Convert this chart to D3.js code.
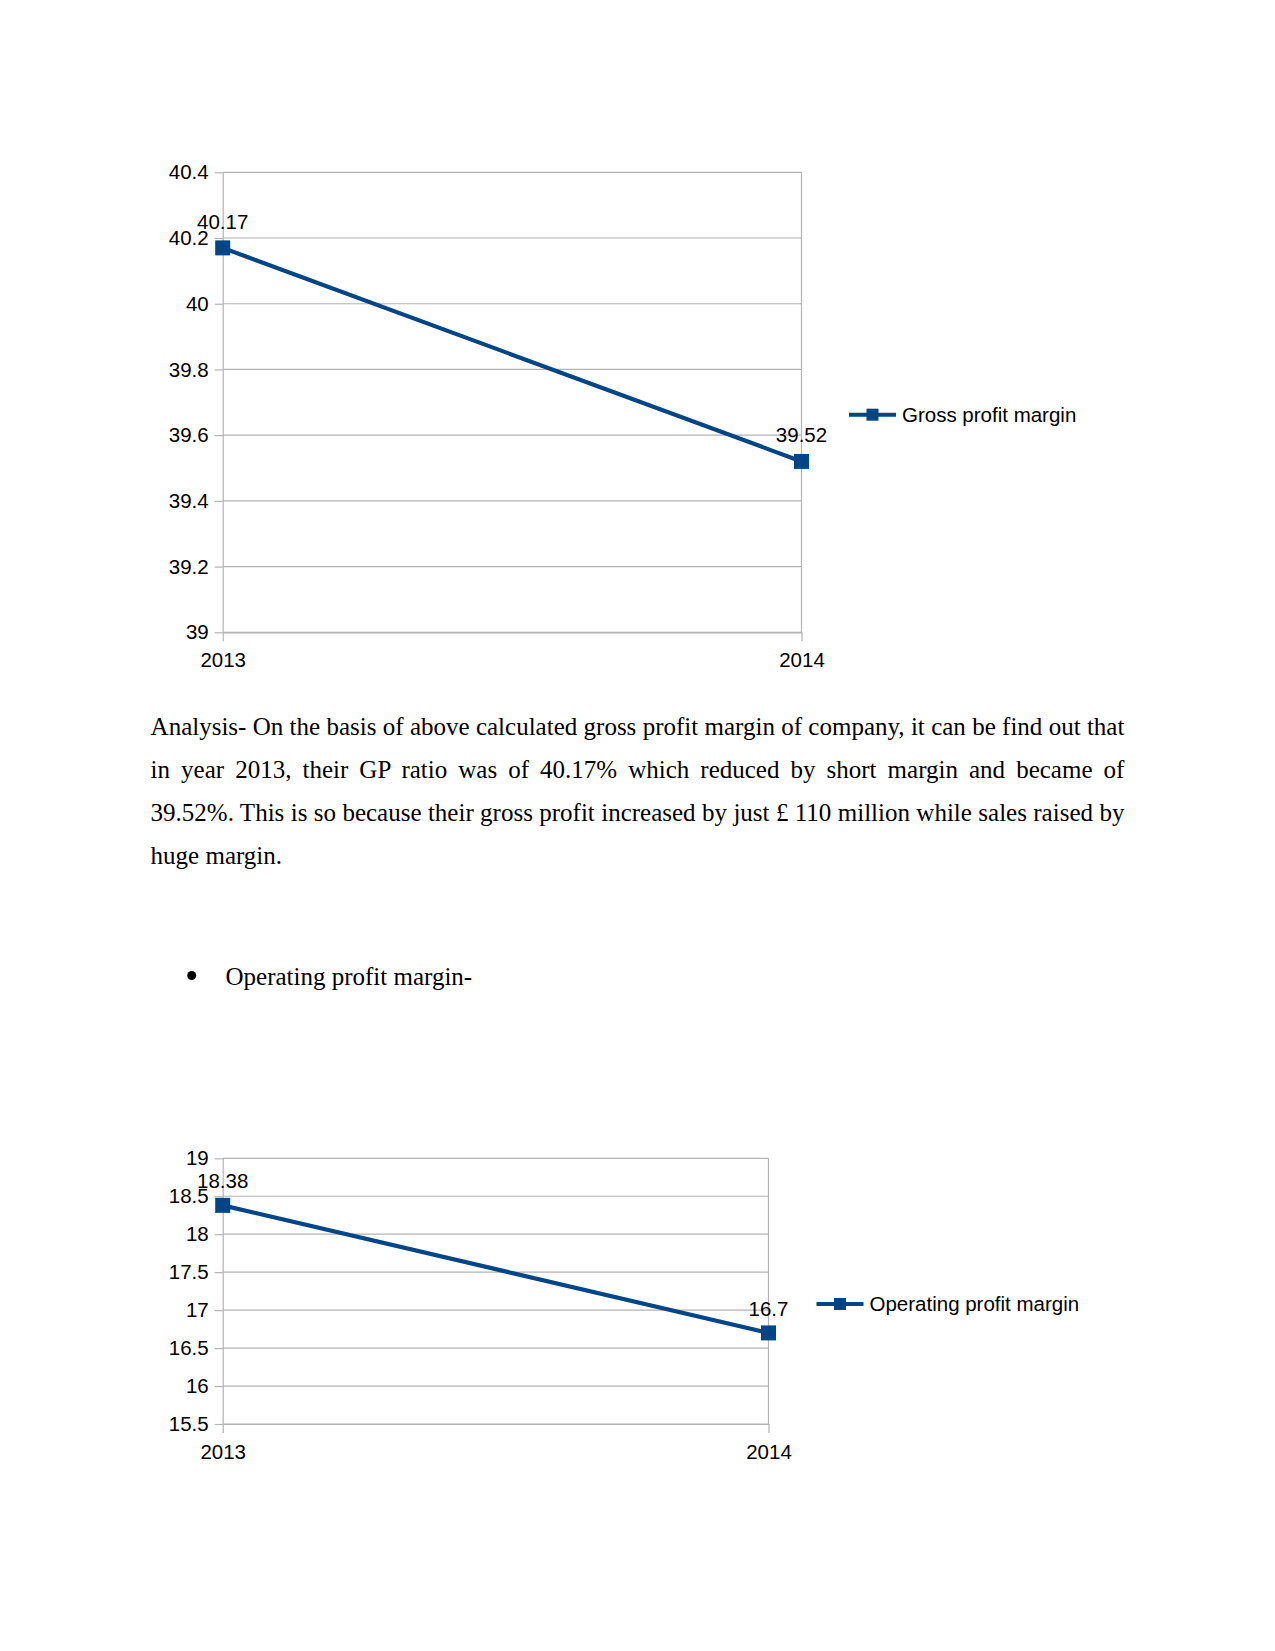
<!DOCTYPE html>
<html>
<head>
<meta charset="utf-8">
<script src="https://cdn.jsdelivr.net/npm/d3@7"></script>
<style>
  html, body { margin: 0; padding: 0; background: #ffffff; }
  svg { display: block; }
</style>
</head>
<body>
<script>
// ---- Data ----
const years = ["2013", "2014"];
const grossProfitMargin = [40.17, 39.52];
const operatingProfitMargin = [18.38, 16.7];
const gpTicks = [39, 39.2, 39.4, 39.6, 39.8, 40, 40.2, 40.4];
const opTicks = [15.5, 16, 16.5, 17, 17.5, 18, 18.5, 19];
const gpLabel = "Gross profit margin";
const opLabel = "Operating profit margin";
const paragraphLines = [
  "Analysis- On the basis of above calculated gross profit margin of company, it can be find out that",
  "in year 2013, their GP ratio was of 40.17% which reduced by short margin and became of",
  "39.52%. This is so because their gross profit increased by just £ 110 million while sales raised by",
  "huge margin."
];
const bulletText = "Operating profit margin-";

// ---- Page ----
const W = 1275, H = 1651;
const color = "#004586";
const gridColor = "#b3b3b3";
const sansFont = "'Liberation Sans', Arial, sans-serif";
const serifFont = "'Liberation Serif', 'Times New Roman', serif";
const chartFontSize = 20.5;

const svg = d3.select("body").append("svg")
  .attr("width", W).attr("height", H)
  .attr("viewBox", `0 0 ${W} ${H}`);
svg.append("rect").attr("width", W).attr("height", H).attr("fill", "#fff");

function drawChart(cfg) {
  const g = svg.append("g");
  const x = d3.scalePoint().domain(years).range([cfg.left, cfg.right]);
  const yDomain = d3.extent(cfg.ticks);
  const y = d3.scaleLinear().domain(yDomain).range([cfg.bottom, cfg.top]);

  // gridlines
  g.append("g").selectAll("line").data(cfg.ticks).join("line")
    .attr("x1", cfg.left).attr("x2", cfg.right)
    .attr("y1", d => y(d)).attr("y2", d => y(d))
    .attr("stroke", gridColor).attr("stroke-width", 1.2);
  // plot border right
  g.append("line").attr("x1", cfg.right).attr("x2", cfg.right)
    .attr("y1", cfg.top).attr("y2", cfg.bottom)
    .attr("stroke", gridColor).attr("stroke-width", 1.2);

  // y axis
  const yAxis = g.append("g").attr("transform", `translate(${cfg.left},0)`)
    .call(d3.axisLeft(y).tickValues(cfg.ticks).tickFormat(d => String(d))
      .tickSizeInner(8).tickSizeOuter(0).tickPadding(6));
  yAxis.select(".domain").attr("stroke", gridColor).attr("stroke-width", 1.2);
  yAxis.selectAll(".tick line").attr("stroke", gridColor).attr("stroke-width", 1.2);
  yAxis.selectAll("text").attr("font-family", sansFont).attr("font-size", chartFontSize).attr("fill", "#000");

  // x axis
  const xAxis = g.append("g").attr("transform", `translate(0,${cfg.bottom})`)
    .call(d3.axisBottom(x).tickSizeInner(9).tickSizeOuter(0).tickPadding(11));
  xAxis.select(".domain").attr("stroke", gridColor).attr("stroke-width", 1.2);
  xAxis.selectAll(".tick line").attr("stroke", gridColor).attr("stroke-width", 1.2);
  xAxis.selectAll("text").attr("font-family", sansFont).attr("font-size", chartFontSize).attr("fill", "#000");

  const pts = years.map((yr, i) => ({ yr, v: cfg.values[i] }));

  // line
  g.append("path").datum(pts)
    .attr("fill", "none").attr("stroke", color).attr("stroke-width", 4.2)
    .attr("d", d3.line().x(d => x(d.yr)).y(d => y(d.v)));

  // markers
  const ms = 15;
  g.append("g").selectAll("rect").data(pts).join("rect")
    .attr("x", d => x(d.yr) - ms / 2).attr("y", d => y(d.v) - ms / 2)
    .attr("width", ms).attr("height", ms).attr("fill", color);

  // data labels
  g.append("g").selectAll("text").data(pts).join("text")
    .attr("x", d => x(d.yr)).attr("y", d => y(d.v) - cfg.labelOffset)
    .attr("text-anchor", "middle")
    .attr("font-family", sansFont).attr("font-size", chartFontSize).attr("fill", "#000")
    .text(d => String(d.v));

  // legend
  const lg = g.append("g").attr("transform", `translate(${cfg.legendX},${cfg.legendY})`);
  lg.append("line").attr("x1", 0).attr("x2", 47).attr("y1", 0).attr("y2", 0)
    .attr("stroke", color).attr("stroke-width", 4);
  lg.append("rect").attr("x", 17.5).attr("y", -6).attr("width", 12).attr("height", 12).attr("fill", color);
  lg.append("text").attr("x", 53).attr("y", 7)
    .attr("font-family", sansFont).attr("font-size", chartFontSize).attr("fill", "#000")
    .text(cfg.legend);
}

drawChart({
  values: grossProfitMargin, ticks: gpTicks,
  left: 222.7, right: 801.5, top: 172.3, bottom: 632.3,
  labelOffset: 19, legend: gpLabel, legendX: 849, legendY: 414.7
});

drawChart({
  values: operatingProfitMargin, ticks: opTicks,
  left: 222.7, right: 768.5, top: 1158.3, bottom: 1424,
  labelOffset: 17, legend: opLabel, legendX: 816.5, legendY: 1304
});

// ---- Paragraph text (justified) ----
const textLeft = 150.6, textRight = 1124.4, textWidth = textRight - textLeft;
const baselines = [735, 778, 821, 864];
paragraphLines.forEach((line, i) => {
  const t = svg.append("text")
    .attr("x", textLeft).attr("y", baselines[i])
    .attr("font-family", serifFont).attr("font-size", 25).attr("fill", "#000")
    .attr("xml:space", "preserve")
    .text(line);
  if (i < paragraphLines.length - 1) {
    const natural = t.node().getComputedTextLength();
    const spaces = (line.match(/ /g) || []).length;
    const extra = (textWidth - natural) / spaces;
    t.style("word-spacing", extra + "px");
  }
});

// bullet
svg.append("circle").attr("cx", 191.7).attr("cy", 975.5).attr("r", 4.5).attr("fill", "#000");
svg.append("text").attr("x", 225.5).attr("y", 984.5)
  .attr("font-family", serifFont).attr("font-size", 25).attr("fill", "#000")
  .text(bulletText);
</script>
</body>
</html>
